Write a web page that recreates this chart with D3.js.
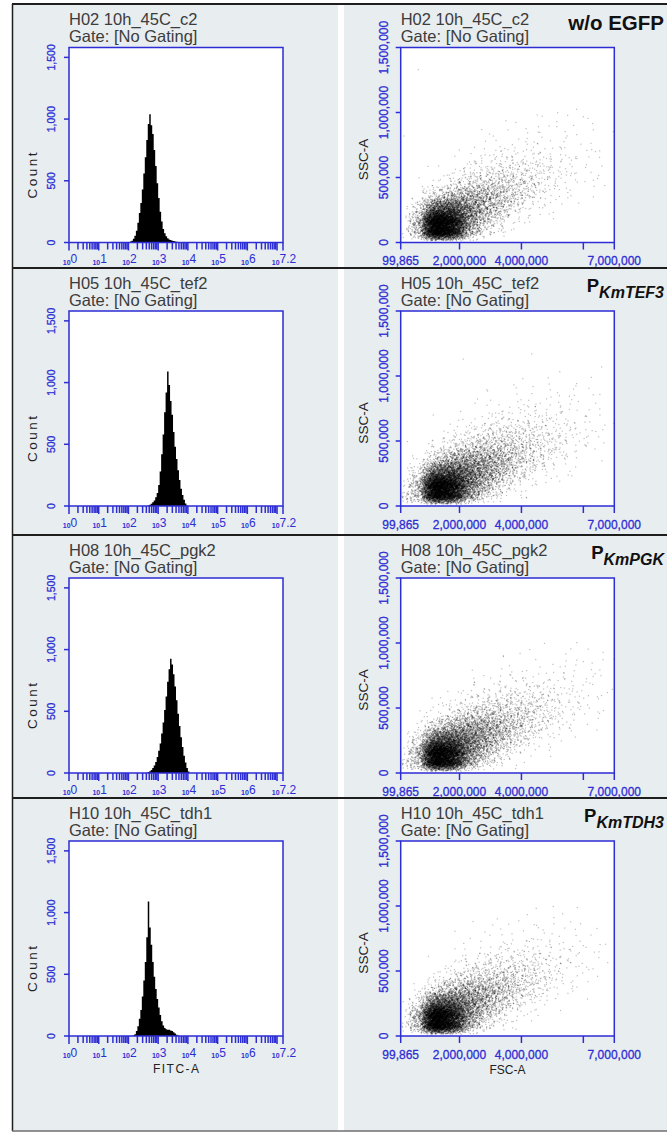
<!DOCTYPE html>
<html>
<head>
<meta charset="utf-8">
<script src="https://cdn.jsdelivr.net/npm/d3@7"></script>
<style>
  html, body { margin: 0; padding: 0; background: #ffffff; }
  svg { display: block; }
</style>
</head>
<body>
<svg id="fig" width="667" height="1134"></svg>
<script>
// ---------------------------------------------------------------
// Sample names, gate and construct labels
// ---------------------------------------------------------------
const sampleNames = ["H02 10h_45C_c2", "H05 10h_45C_tef2", "H08 10h_45C_pgk2", "H10 10h_45C_tdh1"];
const gateText = "Gate: [No Gating]";
const constructMain = ["w/o EGFP", "P", "P", "P"];
const constructSub = ["", "KmTEF3", "KmPGK", "KmTDH3"];

// ---------------------------------------------------------------
// FITC-A histograms: counts per bin, bins 0.05 decade wide,
// first bin starting at the listed log10 value
// ---------------------------------------------------------------
const histBinWidth = 0.05;
const histStart = [2.05, 2.65, 2.60, 2.15];
const countsC2 = [8, 15, 30, 55, 95, 160, 240, 320, 430, 560, 690, 830, 960, 1040, 950, 880, 750, 620, 480, 360, 250, 170, 110, 75, 50, 35, 25, 20, 15, 12, 9, 6, 3];
const countsTef2 = [5, 10, 18, 30, 45, 70, 105, 170, 280, 420, 580, 760, 920, 1090, 980, 850, 740, 600, 480, 380, 290, 210, 140, 90, 50, 20, 5];
const countsPgk2 = [3, 8, 15, 25, 40, 60, 90, 130, 180, 240, 320, 410, 510, 620, 740, 840, 925, 880, 800, 700, 590, 480, 380, 290, 210, 140, 85, 40, 12];
const countsTdh1 = [5, 15, 40, 80, 140, 210, 320, 450, 600, 800, 1090, 880, 740, 600, 480, 380, 300, 230, 170, 120, 85, 65, 55, 50, 50, 45, 40, 30, 20, 10, 4];
const histCounts = [countsC2, countsTef2, countsPgk2, countsTdh1];

const countMax = 1580;
const countTicks = [0, 500, 1000, 1500];
const fitcMaxExp = 7.2;
const fitcDecades = [0, 1, 2, 3, 4, 5, 6, 7];
const fitcLabelExps = [0, 1, 2, 3, 4, 5, 6, 7.2];

// ---------------------------------------------------------------
// FSC-A / SSC-A dot plots: event counts per grid cell
// columns = FSC-A bins (edges below), rows = SSC-A bins (bottom row first)
// ---------------------------------------------------------------
const fscEdges = [100000, 500000, 1000000, 1500000, 2000000, 2500000, 3000000, 3500000, 4000000, 4500000, 5000000, 5500000, 6000000, 6500000, 7000000];
const sscEdges = [40000, 100000, 200000, 300000, 400000, 500000, 600000, 700000, 800000, 900000, 1000000];

const gridC2 = [
  [2, 80, 1000, 700, 95, 15, 3, 1, 0, 0, 0, 0, 0, 0],
  [5, 220, 2300, 1600, 380, 105, 28, 6, 2, 0, 0, 0, 0, 0],
  [1, 65, 700, 750, 420, 210, 100, 30, 8, 3, 1, 0, 0, 0],
  [0, 7, 80, 170, 220, 190, 140, 70, 30, 10, 4, 2, 1, 0],
  [0, 1, 7, 26, 60, 80, 80, 65, 45, 22, 8, 4, 2, 1],
  [0, 0, 1, 5, 15, 26, 36, 38, 32, 20, 12, 6, 3, 1],
  [0, 0, 0, 1, 3, 7, 12, 14, 14, 12, 8, 5, 3, 1],
  [0, 0, 0, 0, 1, 2, 3, 5, 6, 5, 4, 3, 3, 1],
  [0, 0, 0, 0, 0, 1, 1, 2, 2, 3, 2, 2, 2, 0],
  [0, 0, 0, 0, 0, 0, 0, 1, 1, 1, 2, 1, 1, 0]
];
const gridTef2 = [
  [24, 70, 850, 650, 130, 28, 6, 2, 1, 0, 0, 0, 0, 0],
  [9, 210, 2150, 1600, 510, 180, 55, 14, 4, 1, 0, 0, 0, 0],
  [2, 58, 650, 760, 510, 300, 160, 60, 22, 6, 2, 1, 0, 0],
  [0, 7, 90, 225, 285, 260, 195, 105, 52, 22, 9, 3, 1, 0],
  [0, 1, 12, 40, 80, 105, 105, 85, 58, 36, 17, 6, 3, 1],
  [0, 0, 2, 7, 20, 36, 46, 48, 40, 28, 17, 9, 4, 2],
  [0, 0, 0, 1, 4, 9, 14, 18, 18, 15, 11, 6, 4, 2],
  [0, 0, 0, 0, 1, 2, 4, 6, 7, 7, 6, 4, 3, 1],
  [0, 0, 0, 0, 0, 1, 1, 2, 3, 3, 3, 3, 2, 1],
  [0, 0, 0, 0, 0, 0, 1, 1, 1, 2, 2, 1, 1, 1]
];
const gridPgk2 = [
  [18, 78, 880, 650, 105, 20, 5, 2, 0, 0, 0, 0, 0, 0],
  [7, 220, 2150, 1500, 450, 150, 42, 12, 3, 1, 0, 0, 0, 0],
  [2, 65, 650, 720, 460, 270, 140, 52, 18, 5, 2, 0, 0, 0],
  [0, 9, 90, 210, 270, 250, 180, 98, 52, 20, 7, 3, 1, 0],
  [0, 1, 9, 32, 72, 98, 98, 78, 58, 32, 15, 6, 3, 1],
  [0, 0, 2, 6, 17, 30, 40, 42, 38, 28, 17, 9, 4, 2],
  [0, 0, 0, 1, 3, 7, 12, 14, 15, 14, 10, 6, 4, 2],
  [0, 0, 0, 0, 1, 2, 3, 4, 5, 5, 5, 4, 3, 1],
  [0, 0, 0, 0, 0, 0, 1, 1, 2, 2, 2, 2, 2, 1],
  [0, 0, 0, 0, 0, 0, 0, 1, 1, 1, 1, 1, 1, 1]
];
const gridTdh1 = [
  [7, 90, 1050, 640, 90, 15, 4, 1, 0, 0, 0, 0, 0, 0],
  [6, 250, 2300, 1350, 370, 110, 30, 9, 2, 0, 0, 0, 0, 0],
  [1, 58, 630, 650, 390, 215, 100, 38, 11, 3, 1, 0, 0, 0],
  [0, 7, 70, 170, 215, 195, 150, 78, 38, 14, 5, 2, 1, 0],
  [0, 1, 7, 26, 58, 78, 78, 65, 46, 26, 11, 4, 2, 1],
  [0, 0, 1, 5, 15, 26, 33, 36, 30, 21, 12, 6, 3, 1],
  [0, 0, 0, 1, 3, 7, 10, 13, 13, 10, 8, 5, 3, 1],
  [0, 0, 0, 0, 1, 2, 3, 4, 5, 5, 4, 3, 2, 1],
  [0, 0, 0, 0, 0, 1, 1, 1, 2, 2, 2, 1, 1, 0],
  [0, 0, 0, 0, 0, 0, 0, 1, 1, 1, 1, 1, 0, 0]
];
const scatterGrids = [gridC2, gridTef2, gridPgk2, gridTdh1];

// isolated events outside the main cloud, [FSC-A, SSC-A]
const outliersC2 = [[668000, 1330000], [3500000, 937000], [4510000, 981000], [5170000, 999000], [6000000, 968000], [6970000, 853000], [200000, 819000], [5140000, 891000]];
const outliersTef2 = [[2120000, 1130000], [4330000, 1170000], [6590000, 1070000], [2500000, 791000], [1150000, 700000], [5760000, 923000], [6320000, 855000]];
const outliersPgk2 = [[6640000, 928000], [6000000, 857000], [5760000, 831000], [3630000, 757000], [6380000, 763000], [6990000, 877000]];
const outliersTdh1 = [[5030000, 996000], [5910000, 864000], [2440000, 881000], [1850000, 805000], [4490000, 851000], [6540000, 703000]];
const scatterOutliers = [outliersC2, outliersTef2, outliersPgk2, outliersTdh1];

const fscMin = 99865, fscMax = 7000000;
const fscTicks = [99865, 2000000, 4000000, 6000000, 7000000];
const fscTickLabels = ["99,865", "2,000,000", "4,000,000", "", "7,000,000"];
const sscMax = 1500000;
const sscTicks = [0, 500000, 1000000, 1500000];

// ---------------------------------------------------------------
// Layout and style
// ---------------------------------------------------------------
const W = 667, H = 1134;
const bg = "#e8edf0";
const axisBlue = "#2d2dd4";
const titleColor = "#3c3c3c";
const rowTop = [47.5, 311, 578, 841];
const plotH = 195;
const histLeft = 69, histRight = 283;
const scatLeft = 400.7, scatRight = 614.3;
const sansFont = "'Liberation Sans', Arial, sans-serif";

const svg = d3.select("#fig");

// page background, column gap and frame rules
svg.append("rect").attr("x", 12).attr("y", 4).attr("width", W - 12).attr("height", 1127).attr("fill", bg);
svg.append("rect").attr("x", 338).attr("y", 4).attr("width", 6).attr("height", 1127).attr("fill", "#ffffff");
const frame = svg.append("g").attr("stroke", "#1e1e1e").attr("fill", "none");
frame.append("line").attr("x1", 12).attr("x2", W).attr("y1", 4).attr("y2", 4).attr("stroke-width", 2);
[268, 535, 798].forEach(y => {
  frame.append("line").attr("x1", 12).attr("x2", W).attr("y1", y).attr("y2", y).attr("stroke-width", 2);
});
frame.append("line").attr("x1", 12.5).attr("x2", 12.5).attr("y1", 4).attr("y2", 1131).attr("stroke-width", 1.5);
frame.append("line").attr("x1", 12).attr("x2", W).attr("y1", 1131).attr("y2", 1131).attr("stroke", "#6f6f6f").attr("stroke-width", 1.5);

// deterministic low-discrepancy placement of the events counted in each cell,
// spread with a triangular kernel one cell wide on each side
function halton(i, base) {
  let f = 1, r = 0;
  while (i > 0) { f /= base; r += f * (i % base); i = Math.floor(i / base); }
  return r;
}
function cloudEvents(grid, outliers) {
  const pts = [];
  let idx = 1;
  grid.forEach((row, r) => row.forEach((n, c) => {
    const cx = (fscEdges[c] + fscEdges[c + 1]) / 2, w = fscEdges[c + 1] - fscEdges[c];
    const cy = (sscEdges[r] + sscEdges[r + 1]) / 2, h = sscEdges[r + 1] - sscEdges[r];
    for (let k = 0; k < n; k++, idx++) {
      const u = halton(idx, 2) + halton(idx, 5) - 1;
      const v = halton(idx, 3) + halton(idx, 7) - 1;
      pts.push([cx + u * w, cy + v * h]);
    }
  }));
  return pts.concat(outliers);
}

sampleNames.forEach((name, i) => {
  const top = rowTop[i];
  const bottom = top + plotH;

  // ===================== FITC-A histogram =====================
  const gh = svg.append("g");
  const xH = d3.scaleLog().domain([1, Math.pow(10, fitcMaxExp)]).range([histLeft, histRight]);
  const yH = d3.scaleLinear().domain([0, countMax]).range([bottom, top]);

  gh.append("rect").attr("x", histLeft).attr("y", top).attr("width", histRight - histLeft).attr("height", plotH).attr("fill", "#ffffff");

  const bins = histCounts[i].map((c, k) => ({ lo: histStart[i] + k * histBinWidth, count: c }));
  bins.push({ lo: histStart[i] + histCounts[i].length * histBinWidth, count: 0 });
  const histArea = d3.area()
    .curve(d3.curveStepAfter)
    .x(d => xH(Math.pow(10, d.lo)))
    .y0(yH(0))
    .y1(d => yH(d.count));
  gh.append("path").datum(bins).attr("d", histArea).attr("fill", "#000000");

  gh.append("rect").attr("x", histLeft).attr("y", top).attr("width", histRight - histLeft).attr("height", plotH)
    .attr("fill", "none").attr("stroke", axisBlue).attr("stroke-width", 1.5);

  // x ticks: decades plus 2..9 minor ticks
  const ticks = [];
  fitcDecades.forEach(d => {
    for (let m = 1; m <= 9; m++) {
      const v = m * Math.pow(10, d);
      if (Math.log10(v) <= fitcMaxExp + 1e-9) ticks.push({ v, major: m === 1 });
    }
  });
  ticks.push({ v: Math.pow(10, fitcMaxExp), major: true });
  gh.append("g").selectAll("line").data(ticks).join("line")
    .attr("x1", d => xH(d.v)).attr("x2", d => xH(d.v))
    .attr("y1", bottom).attr("y2", d => bottom + (d.major ? 8 : 7))
    .attr("stroke", axisBlue).attr("stroke-width", 1.5);

  const xl = gh.append("g").selectAll("text").data(fitcLabelExps).join("text")
    .attr("x", d => xH(Math.pow(10, d)) + 1).attr("y", bottom + 22)
    .attr("text-anchor", "middle").attr("font-family", sansFont).attr("fill", axisBlue);
  xl.append("tspan").attr("font-size", 7).attr("font-weight", "bold").text("10");
  xl.append("tspan").attr("font-size", 12).attr("dy", -1.5).text(d => String(d));

  // y ticks
  gh.append("g").selectAll("line").data(countTicks).join("line")
    .attr("x1", histLeft - 5).attr("x2", histLeft).attr("y1", d => yH(d)).attr("y2", d => yH(d))
    .attr("stroke", axisBlue).attr("stroke-width", 1.5);
  gh.append("g").selectAll("text").data(countTicks).join("text")
    .attr("transform", d => `translate(${histLeft - 14.5},${yH(d)}) rotate(-90)`)
    .attr("text-anchor", "middle").attr("font-family", sansFont).attr("font-size", 10.5)
    .attr("fill", axisBlue).attr("stroke", axisBlue).attr("stroke-width", 0.3)
    .text(d => d3.format(",")(d));

  gh.append("text").attr("transform", `translate(36.5,${top + 128}) rotate(-90)`)
    .attr("text-anchor", "middle").attr("font-family", sansFont).attr("font-size", 13.5)
    .attr("fill", "#222").attr("textLength", 46).attr("lengthAdjust", "spacing").text("Count");

  const ht = gh.append("text").attr("font-family", sansFont).attr("font-size", 16.5).attr("fill", titleColor);
  ht.append("tspan").attr("x", histLeft).attr("y", top - 22.5).text(name);
  ht.append("tspan").attr("x", histLeft).attr("y", top - 5.5).text(gateText);

  if (i === sampleNames.length - 1) {
    gh.append("text").attr("x", (histLeft + histRight) / 2).attr("y", bottom + 37)
      .attr("text-anchor", "middle").attr("font-family", sansFont).attr("font-size", 12)
      .attr("fill", "#222").attr("textLength", 46).attr("lengthAdjust", "spacing").text("FITC-A");
  }

  // ===================== FSC-A / SSC-A dot plot =====================
  const gs = svg.append("g");
  const xS = d3.scaleLinear().domain([fscMin, fscMax]).range([scatLeft, scatRight]);
  const yS = d3.scaleLinear().domain([0, sscMax]).range([bottom, top]);

  gs.append("rect").attr("x", scatLeft).attr("y", top).attr("width", scatRight - scatLeft).attr("height", plotH).attr("fill", "#ffffff");
  const clipId = "clip" + i;
  gs.append("clipPath").attr("id", clipId).append("rect")
    .attr("x", scatLeft).attr("y", top).attr("width", scatRight - scatLeft).attr("height", plotH);

  const events = cloudEvents(scatterGrids[i], scatterOutliers[i]);
  gs.append("g").attr("clip-path", `url(#${clipId})`).selectAll("rect").data(events).join("rect")
    .attr("x", d => xS(d[0]) - 0.6).attr("y", d => yS(d[1]) - 0.6)
    .attr("width", 1.2).attr("height", 1.2)
    .attr("fill", "#000").attr("fill-opacity", 0.26);

  gs.append("rect").attr("x", scatLeft).attr("y", top).attr("width", scatRight - scatLeft).attr("height", plotH)
    .attr("fill", "none").attr("stroke", axisBlue).attr("stroke-width", 1.5);

  gs.append("g").selectAll("line").data(fscTicks).join("line")
    .attr("x1", d => xS(d)).attr("x2", d => xS(d)).attr("y1", bottom).attr("y2", bottom + 7)
    .attr("stroke", axisBlue).attr("stroke-width", 1.5);
  gs.append("g").selectAll("text").data(fscTicks).join("text")
    .attr("x", d => xS(d)).attr("y", bottom + 22.5).attr("text-anchor", "middle")
    .attr("font-family", sansFont).attr("font-size", 12).attr("fill", axisBlue)
    .attr("stroke", axisBlue).attr("stroke-width", 0.3)
    .text((d, k) => fscTickLabels[k]);

  gs.append("g").selectAll("line").data(sscTicks).join("line")
    .attr("x1", scatLeft - 5).attr("x2", scatLeft).attr("y1", d => yS(d)).attr("y2", d => yS(d))
    .attr("stroke", axisBlue).attr("stroke-width", 1.5);
  gs.append("g").selectAll("text").data(sscTicks).join("text")
    .attr("transform", d => `translate(${scatLeft - 12.5},${yS(d)}) rotate(-90)`)
    .attr("text-anchor", "middle").attr("font-family", sansFont).attr("font-size", 12)
    .attr("fill", axisBlue).attr("stroke", axisBlue).attr("stroke-width", 0.3)
    .text(d => d3.format(",")(d));

  gs.append("text").attr("transform", `translate(368,${top + 112}) rotate(-90)`)
    .attr("text-anchor", "middle").attr("font-family", sansFont).attr("font-size", 13.5)
    .attr("fill", "#222").text("SSC-A");

  const st = gs.append("text").attr("font-family", sansFont).attr("font-size", 16.5).attr("fill", titleColor);
  st.append("tspan").attr("x", scatLeft).attr("y", top - 22.5).text(name);
  st.append("tspan").attr("x", scatLeft).attr("y", top - 5.5).text(gateText);

  if (i === sampleNames.length - 1) {
    gs.append("text").attr("x", (scatLeft + scatRight) / 2).attr("y", bottom + 38)
      .attr("text-anchor", "middle").attr("font-family", sansFont).attr("font-size", 12)
      .attr("fill", "#222").text("FSC-A");
  }

  // construct label at the top right of the row
  const cl = svg.append("text").attr("x", 664).attr("text-anchor", "end")
    .attr("font-family", sansFont).attr("font-weight", "bold").attr("fill", "#111");
  if (constructSub[i] === "") {
    cl.attr("y", top - 17.5).attr("font-size", 20.5).text(constructMain[i]);
  } else {
    cl.attr("y", top - 19);
    cl.append("tspan").attr("font-size", 18.5).text(constructMain[i]);
    cl.append("tspan").attr("font-size", 16).attr("font-style", "italic").attr("dy", 5.5).text(constructSub[i]);
  }
});
</script>
</body>
</html>
